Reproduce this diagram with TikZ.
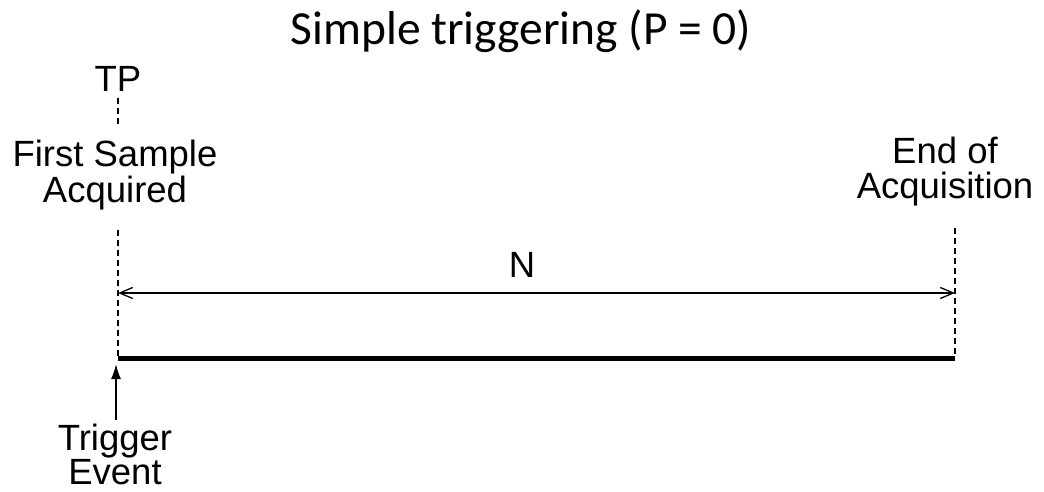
\documentclass[tikz,border=0pt]{standalone}
\usepackage{fontspec}
\setmainfont{Liberation Sans}
\newfontfamily\titlefont{Carlito}
\usetikzlibrary{arrows.meta}
\begin{document}
\begin{tikzpicture}[x=1pt,y=-1pt,
  lbl/.style={inner sep=0pt,align=center,anchor=base,font=\fontsize{36.5}{#1}\selectfont},
  lbl/.default=32,
  guide/.style={draw,line width=1.3pt,dash pattern=on 6pt off 4pt},
  dim/.style={draw,line width=1.3pt,{Straight Barb[length=13pt,width=11pt,line width=1.3pt]}-{Straight Barb[length=13pt,width=11pt,line width=1.3pt]}},
  trig/.style={draw,line width=1.6pt,-{Latex[length=15pt,width=10pt]}}]
\useasboundingbox (0,0) rectangle (1044,492);
\node[inner sep=0pt,font=\titlefont\fontsize{47.5}{47}\selectfont] (title) at (521,31) {Simple triggering (P = 0)};
\node[lbl] (tp) at (118,92) {TP};
\coordinate (tpa) at (118,98);
\coordinate (tpb) at (118,126);
\node[lbl=31] (fsa) at (115,202) {First Sample\\Acquired};
\node[lbl=35] (eoa) at (945,198) {End of\\Acquisition};
\coordinate (lt) at (118,230);
\coordinate (lb) at (118,358);
\coordinate (rt) at (955,228);
\coordinate (rb) at (955,358);
\coordinate (al) at (118,293);
\coordinate (ar) at (955,293);
\node[lbl] (n) at (522,277) {N};
\node[lbl=31] (te) at (115,484) {Trigger\\Event};
\coordinate (ts) at (116,420);
\coordinate (tt) at (116,364);
\draw[guide] (tpa) -- (tpb);
\draw[guide] (lt) -- (lb);
\draw[guide] (rt) -- (rb);
\draw[dim] (al) -- (ar);
\draw[line width=5pt] (lb) -- (rb);
\draw[trig] (ts) -- (tt);
\end{tikzpicture}
\end{document}
